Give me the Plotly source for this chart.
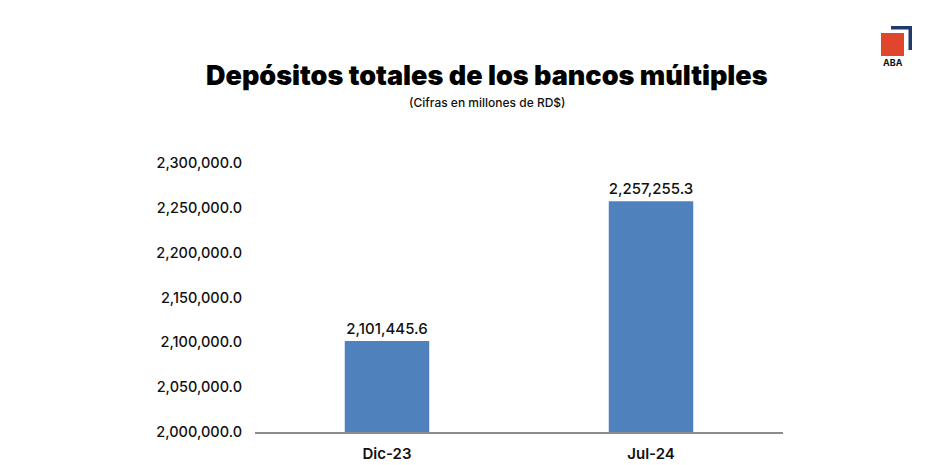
import plotly.graph_objects as go

categories = ["Dic-23", "Jul-24"]
values = [2101445.6, 2257255.3]
tick_values = [2000000, 2050000, 2100000, 2150000, 2200000, 2250000, 2300000]

W, H = 950, 465
ML, MR, MT, MB = 255, 167, 163, 33
PW, PH = W - ML - MR, H - MT - MB


def px(x):
    return (x - ML) / PW


def py(y):
    return (H - MB - y) / PH


FONT = "Inter"

fig = go.Figure(
    go.Bar(
        x=categories,
        y=values,
        width=0.32,
        marker=dict(color="#4F81BD", line=dict(width=0)),
        texttemplate="%{y:,.1f}",
        textposition="outside",
        cliponaxis=False,
        textfont=dict(family=FONT, size=15, color="#111111", weight=500),
        hoverinfo="skip",
    )
)

fig.update_layout(
    width=W,
    height=H,
    margin=dict(l=ML, r=MR, t=MT, b=MB),
    paper_bgcolor="white",
    plot_bgcolor="white",
    showlegend=False,
    bargap=0.68,
    xaxis=dict(
        showline=True,
        linecolor="#8c8c8c",
        linewidth=2,
        ticks="",
        showgrid=False,
        automargin=False,
        ticklabelstandoff=7,
        tickfont=dict(family=FONT, size=15, color="#111111", weight=600),
    ),
    yaxis=dict(
        range=[2000000, 2300000],
        tickvals=tick_values,
        tickformat=",.1f",
        showgrid=False,
        showline=False,
        zeroline=False,
        ticks="",
        automargin=False,
        ticklabelstandoff=12,
        tickfont=dict(family=FONT, size=14.5, color="#111111", weight=500),
    ),
    annotations=[
        dict(
            text="Depósitos totales de los bancos múltiples",
            x=px(487), y=py(75), xref="paper", yref="paper",
            showarrow=False, xanchor="center", yanchor="middle",
            font=dict(family=FONT, size=27, color="#000000", weight=900),
        ),
        dict(
            text="(Cifras en millones de RD$)",
            x=px(487), y=py(103), xref="paper", yref="paper",
            showarrow=False, xanchor="center", yanchor="middle",
            font=dict(family=FONT, size=12, color="#111111", weight=500),
        ),
        dict(
            text="ABA",
            x=px(893), y=py(63), xref="paper", yref="paper",
            showarrow=False, xanchor="center", yanchor="middle",
            font=dict(family=FONT, size=9, color="#111111", weight=700),
        ),
    ],
    shapes=[
        dict(type="rect", xref="paper", yref="paper",
             x0=px(881), x1=px(904), y0=py(56), y1=py(33),
             fillcolor="#E0452E", line=dict(width=0)),
        dict(type="path", xref="paper", yref="paper",
             path=f"M {px(891)} {py(26)} L {px(912)} {py(26)} L {px(912)} {py(50)} "
                  f"L {px(908.5)} {py(50)} L {px(908.5)} {py(29.5)} L {px(891)} {py(29.5)} Z",
             fillcolor="#1F3A6B", line=dict(width=0)),
    ],
)

fig.write_html("out.html")
